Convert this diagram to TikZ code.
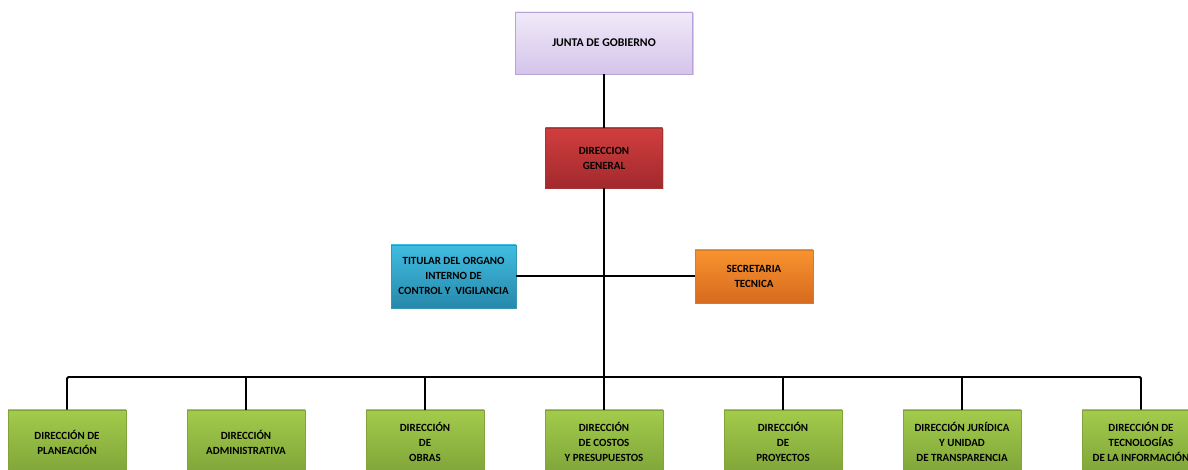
\documentclass[tikz,border=0pt]{standalone}
\usepackage{fontspec}
\setmainfont{Carlito}[BoldFont={Carlito Bold}]
\usepackage{xcolor}
\usetikzlibrary{shadows}

\definecolor{lilaA}{HTML}{F0EAF9}
\definecolor{lilaB}{HTML}{D4C4EB}
\definecolor{lilaBorde}{HTML}{B7A3D7}
\definecolor{rojoA}{HTML}{D13E3E}
\definecolor{rojoB}{HTML}{A2292D}
\definecolor{azulA}{HTML}{40BDE1}
\definecolor{azulB}{HTML}{2788AA}
\definecolor{naranjaA}{HTML}{F8932F}
\definecolor{naranjaB}{HTML}{D76A1F}
\definecolor{verdeA}{HTML}{A3CB4B}
\definecolor{verdeB}{HTML}{7FA439}

\tikzset{
  caja/.style={align=center, inner sep=2pt, text=black,
    font=\fontsize{7.8}{10.7}\selectfont\bfseries,
    drop shadow={opacity=0.35, shadow xshift=0.7pt, shadow yshift=-0.7pt}},
  junta/.style={caja, top color=lilaA, bottom color=lilaB, draw=lilaBorde,
    font=\fontsize{8.4}{10.7}\selectfont\bfseries},
  general/.style={caja, top color=rojoA, bottom color=rojoB, draw=rojoA!80!black},
  organo/.style={caja, top color=azulA, bottom color=azulB, draw=azulA!80!black},
  secre/.style={caja, top color=naranjaA, bottom color=naranjaB, draw=naranjaA!85!black},
  direc/.style={caja, top color=verdeA, bottom color=verdeB, draw=verdeA!80!black,
    minimum width=2.95cm, minimum height=1.6cm},
  linea/.style={line width=1.4pt, black}
}

\begin{document}
\begin{tikzpicture}
\useasboundingbox (0,0) rectangle (29.7,11.75);
\clip (0,0) rectangle (29.7,11.75);
% cajas superiores
\node [junta, minimum width=4.43cm, minimum height=1.55cm] (junta) at (15.1,10.675) {JUNTA DE GOBIERNO};
\node [general, minimum width=2.93cm, minimum height=1.5cm] (general) at (15.1,7.8) {DIRECCION\\GENERAL};
\node [organo, minimum width=3.13cm, minimum height=1.58cm] (organo) at (11.34,4.84) {TITULAR DEL ORGANO\\INTERNO DE\\CONTROL Y\ \ VIGILANCIA};
\node [secre, minimum width=2.95cm, minimum height=1.33cm] (secre) at (18.85,4.84) {SECRETARIA\\TECNICA};
% direcciones
\foreach \i/\texto in {0/{DIRECCIÓN DE\\PLANEACIÓN},
                       1/{DIRECCIÓN\\ADMINISTRATIVA},
                       2/{DIRECCIÓN\\DE\\OBRAS},
                       3/{DIRECCIÓN\\DE COSTOS\\Y PRESUPUESTOS},
                       4/{DIRECCIÓN\\DE\\PROYECTOS},
                       5/{DIRECCIÓN JURÍDICA\\Y UNIDAD\\DE TRANSPARENCIA},
                       6/{DIRECCIÓN DE\\TECNOLOGÍAS\\DE LA INFORMACIÓN}}
  \node [direc] (d\i) at ({1.675+4.475*\i},0.7) {\texto};
% lineas
\coordinate (bus) at (15.1,2.325);
\draw [linea] (junta) -- (general);
\draw [linea] (general) -- (general |- bus);
\draw [linea] (organo) -- (secre);
\draw [linea, rounded corners=1pt] (d0.north) |- (bus) -| (d6.north);
\foreach \i in {1,...,5}
  \draw [linea] (d\i.north) -- (d\i.north |- bus);
\end{tikzpicture}
\end{document}
